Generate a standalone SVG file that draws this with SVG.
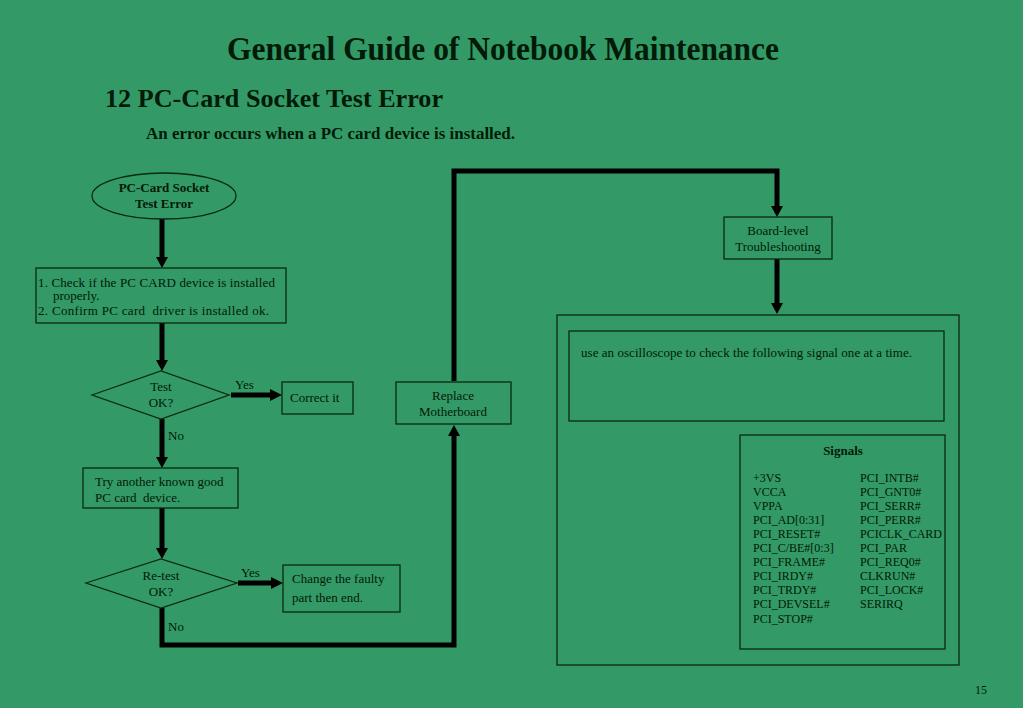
<svg xmlns="http://www.w3.org/2000/svg" width="1023" height="708" viewBox="0 0 1023 708">
<style>
text{font-family:"Liberation Serif","Times New Roman",serif;fill:#021a08;font-size:13px}
.b{font-weight:bold}
.c{text-anchor:middle}
.box{fill:none;stroke:#0b2a12;stroke-width:1.3}
.con{fill:none;stroke:#000;stroke-width:5;stroke-linejoin:miter}
.sig text{font-size:12px}
</style>
<rect width="1023" height="708" fill="#339966"/>
<g id="titles">
<text x="503" y="60" class="b c" style="font-size:33px" textLength="552" lengthAdjust="spacingAndGlyphs">General Guide of Notebook Maintenance</text>
<text x="105" y="107" class="b" style="font-size:26px" textLength="338" lengthAdjust="spacingAndGlyphs">12 PC-Card Socket Test Error</text>
<text x="146" y="139" class="b" style="font-size:16.5px" textLength="369" lengthAdjust="spacingAndGlyphs">An error occurs when a PC card device is installed.</text>
<text x="975" y="694" style="font-size:12px">15</text>
</g>
<g id="connectors">
<path class="con" d="M162 219 V258"/>
<path d="M156 257 L168 257 L162 268 Z" fill="#000"/>
<path class="con" d="M162 323 V360"/>
<path d="M156 360 L168 360 L162 371 Z" fill="#000"/>
<path class="con" d="M231 395 H270"/>
<path d="M270 389 L282 395 L270 401 Z" fill="#000"/>
<path class="con" d="M162 419 V457"/>
<path d="M156 457 L168 457 L162 468 Z" fill="#000"/>
<path class="con" d="M162 508 V548"/>
<path d="M156 548 L168 548 L162 559 Z" fill="#000"/>
<path class="con" d="M238 583 H272"/>
<path d="M271 577 L283 583 L271 589 Z" fill="#000"/>
<path class="con" d="M162 608 V645 H454 V436"/>
<path d="M448 436 L460 436 L454 425 Z" fill="#000"/>
<path class="con" d="M454 381 V171 H777 V206"/>
<path d="M771 206 L783 206 L777 217 Z" fill="#000"/>
<path class="con" d="M777 259 V303"/>
<path d="M771 303 L783 303 L777 314 Z" fill="#000"/>
<text x="235" y="389">Yes</text>
<text x="168" y="440">No</text>
<text x="241" y="577">Yes</text>
<text x="168" y="631">No</text>
</g>
<g id="start">
<ellipse class="box" cx="164" cy="196" rx="72" ry="23"/>
<text x="164" y="192" class="b c">PC-Card Socket</text>
<text x="164" y="208" class="b c">Test Error</text>
</g>
<g id="check">
<rect class="box" x="36" y="268" width="250" height="55"/>
<text x="38" y="287" textLength="237">1. Check if the PC CARD device is installed</text>
<text x="53" y="300">properly.</text>
<text x="38" y="315" textLength="231">2. Confirm PC card&#160; driver is installed ok.</text>
</g>
<g id="test">
<path class="box" d="M92 395 L161 371 L229 395 L161 419 Z"/>
<text x="161" y="391" class="c">Test</text>
<text x="161" y="407" class="c">OK?</text>
</g>
<g id="correct">
<rect class="box" x="282" y="382" width="71" height="32"/>
<text x="290" y="402">Correct it</text>
</g>
<g id="tryanother">
<rect class="box" x="83" y="468" width="155" height="40"/>
<text x="95" y="486">Try another known good</text>
<text x="95" y="502">PC card&#160; device.</text>
</g>
<g id="retest">
<path class="box" d="M86 583 L161 559 L237 583 L161 608 Z"/>
<text x="161" y="580" class="c">Re-test</text>
<text x="161" y="596" class="c">OK?</text>
</g>
<g id="change">
<rect class="box" x="283" y="565" width="117" height="47"/>
<text x="292" y="583">Change the faulty</text>
<text x="292" y="602">part then end.</text>
</g>
<g id="replace">
<rect class="box" x="396" y="382" width="115" height="42"/>
<text x="453" y="400" class="c">Replace</text>
<text x="453" y="416" class="c">Motherboard</text>
</g>
<g id="boardlevel">
<rect class="box" x="724" y="217" width="108" height="42"/>
<text x="778" y="235" class="c">Board-level</text>
<text x="778" y="251" class="c">Troubleshooting</text>
</g>
<g id="panel">
<rect class="box" x="557" y="315" width="402" height="350"/>
<rect class="box" x="569" y="331" width="375" height="90"/>
<text x="581" y="357" textLength="331">use an oscilloscope to check the following signal one at a time.</text>
</g>
<g id="signals" class="sig">
<rect class="box" x="740" y="435" width="205" height="214"/>
<text x="843" y="455" class="b c" style="font-size:13px">Signals</text>
<text x="753" y="482">+3VS</text>
<text x="753" y="496">VCCA</text>
<text x="753" y="510">VPPA</text>
<text x="753" y="524">PCI_AD[0:31]</text>
<text x="753" y="538">PCI_RESET#</text>
<text x="753" y="552">PCI_C/BE#[0:3]</text>
<text x="753" y="566">PCI_FRAME#</text>
<text x="753" y="580">PCI_IRDY#</text>
<text x="753" y="594">PCI_TRDY#</text>
<text x="753" y="608">PCI_DEVSEL#</text>
<text x="753" y="623">PCI_STOP#</text>
<text x="860" y="482">PCI_INTB#</text>
<text x="860" y="496">PCI_GNT0#</text>
<text x="860" y="510">PCI_SERR#</text>
<text x="860" y="524">PCI_PERR#</text>
<text x="860" y="538">PCICLK_CARD</text>
<text x="860" y="552">PCI_PAR</text>
<text x="860" y="566">PCI_REQ0#</text>
<text x="860" y="580">CLKRUN#</text>
<text x="860" y="594">PCI_LOCK#</text>
<text x="860" y="608">SERIRQ</text>
</g>
</svg>
